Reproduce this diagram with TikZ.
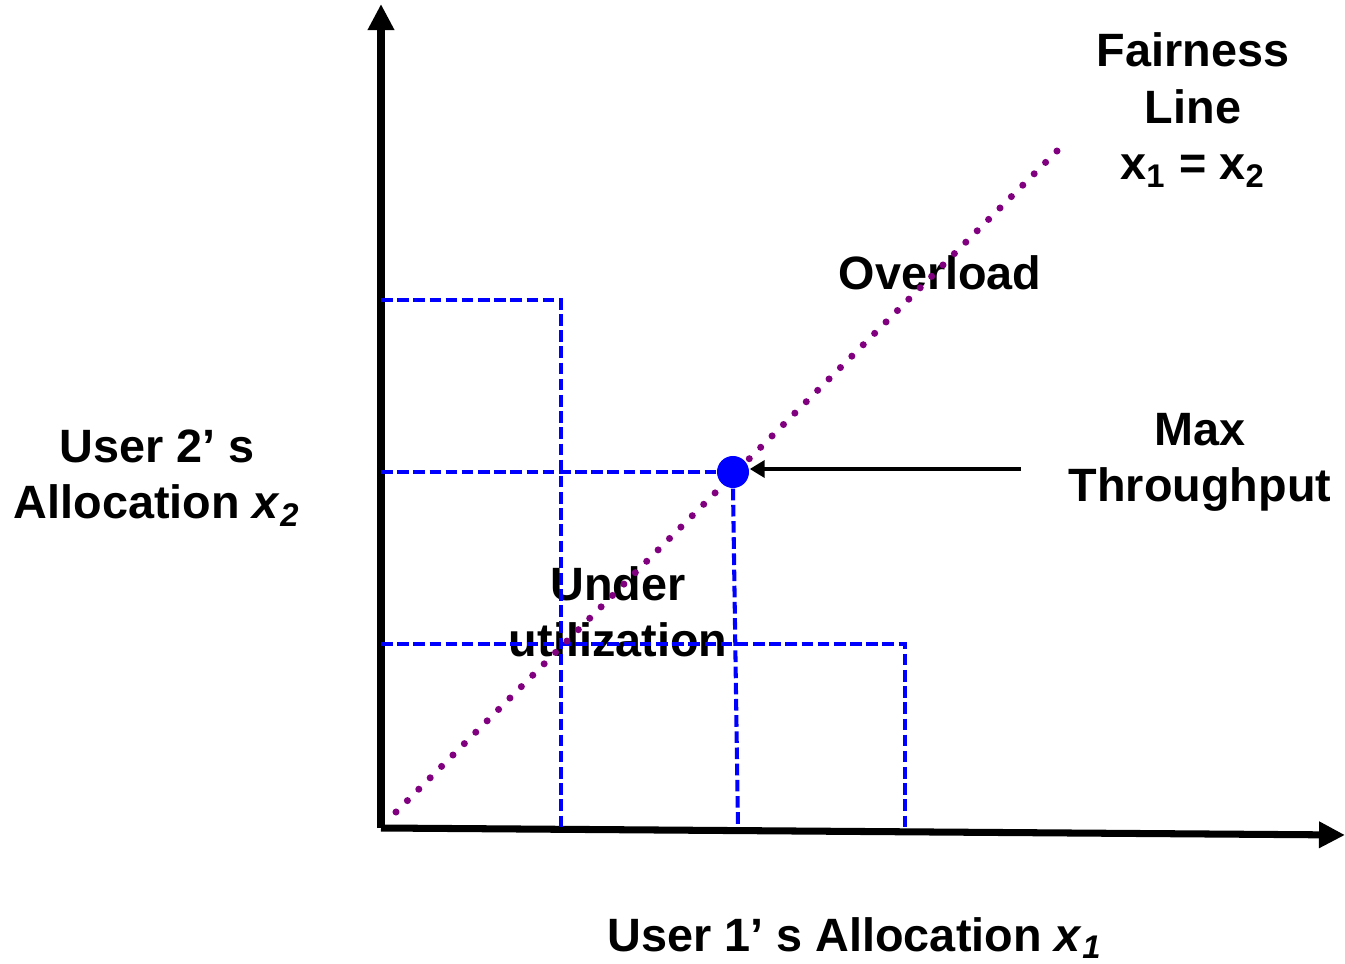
\documentclass[tikz,border=0pt]{standalone}
\usepackage{fontspec}
\setmainfont{Liberation Sans}
\usepackage{xcolor}
\definecolor{fairpurple}{RGB}{128,0,128}
\definecolor{dashblue}{RGB}{0,0,255}
\usetikzlibrary{arrows.meta,calc}

\begin{document}
\begin{tikzpicture}[x=0.01cm,y=-0.01cm,
  every node/.style={align=center,font=\fontsize{13.3}{16}\selectfont\bfseries},
  axisline/.style={line width=2pt,-{Triangle[length=0.26cm,width=0.25cm]}},
  levelline/.style={dashblue,line width=1.15pt,dash pattern=on 3.3pt off 1.3pt},
  fairline/.style={fairpurple,line width=2pt,line cap=round,dash pattern=on 0pt off 4.583pt}]
  % lienzo 1345 x 964 (pixeles)
  \useasboundingbox (0,0) rectangle (1345,964);
  % --- Textos ---
  \node (fairlbl) at (1193,110) {Fairness\\Line\\x\textsubscript{1} = x\textsubscript{2}};
  \node (overlbl) at (940,273) {Overload};
  \node (maxlbl) at (1200,462) {Max\\Throughput};
  \node (underlbl) at (618,612) {Under\\utilization};
  \node (ylbl) at (157,478) {User 2’ s\\Allocation \textit{x}\textsubscript{\textit{2}}};
  \node (xlbl) at (855,938) {User 1’ s Allocation \textit{x}\textsubscript{\textit{1}}};
  % --- Ejes ---
  \coordinate (orig) at (381,828);
  \coordinate (ytip) at (381,4);
  \coordinate (xtip) at (1345,835);
  \draw[axisline] (orig) -- (ytip);
  \draw[axisline] (orig) -- (xtip);
  % --- Niveles (azul discontinuo) ---
  \draw[levelline] (381,300) -| (561,828);
  \draw[levelline] (381,644) -| (905,828);
  % --- Linea de equidad ---
  \coordinate (fairlo) at (396,812);
  \coordinate (fairhi) at (1068,140);
  \draw[fairline] (fairlo) -- (fairhi);
  % --- Punto optimo ---
  \node[circle,fill=dashblue,minimum size=0.32cm,inner sep=0pt] (opt) at (733,472) {};
  \draw[levelline] (381,472) -- (opt.west);
  \draw[levelline] (opt.south) -- (738,828);
  \coordinate (arrstart) at (1021,469);
  \draw[line width=1.2pt,-{Triangle[length=0.15cm,width=0.17cm]}] (arrstart) -- (arrstart -| opt.east);
\end{tikzpicture}
\end{document}
